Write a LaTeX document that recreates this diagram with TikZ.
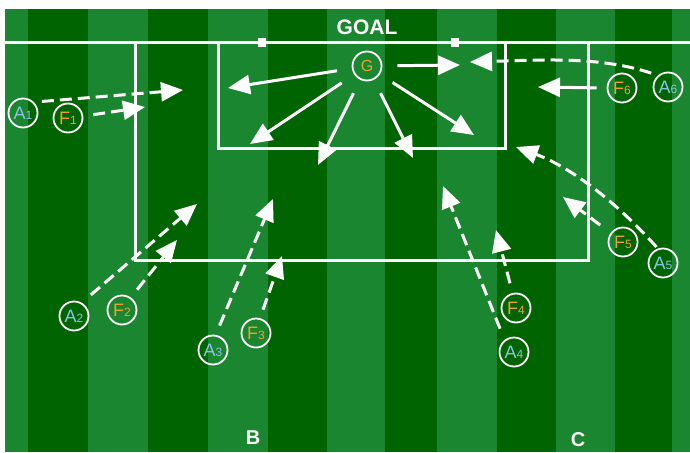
\documentclass[tikz,border=0pt]{standalone}
\usepackage{fontspec}
\setmainfont{Liberation Sans}
\usetikzlibrary{arrows.meta}
\definecolor{grassl}{HTML}{1A8630}
\definecolor{grassd}{HTML}{006400}
\definecolor{attc}{HTML}{8CC4E4}
\definecolor{fwdc}{HTML}{F0A030}
\newcommand{\pnum}[1]{{\fontsize{12}{12}\selectfont #1}}

\begin{document}
\begin{tikzpicture}[x=1pt,y=-1pt,>={Triangle[length=22pt,width=19pt]},pitch/.style={draw=white,line width=3pt},plr/.style={circle,draw=white,line width=1.8pt,minimum size=29pt,inner sep=0pt,font=\fontsize{18}{18}\selectfont},att/.style={plr,text=attc},fwd/.style={plr,text=fwdc},kick/.style={->,draw=white,line width=3pt},run/.style={kick,dash pattern=on 12pt off 6pt},fieldlab/.style={font=\fontsize{21}{21}\selectfont\bfseries,text=white}]
\useasboundingbox (0,0) rectangle (690,452);
\fill[grassl] (5,9) rectangle (690,452);
\foreach \a/\b in {28/88,148/208,268/327,385/437,497/556,615/672} \fill[grassd] (\a,9) rectangle (\b,452);
\draw[pitch] (5,43)--(690,43);
\draw[pitch] (135,43)--(135,260)--(588,260)--(588,43);
\draw[pitch] (218,43)--(218,148)--(505,148)--(505,43);
\foreach \x in {262,455} \fill[white] (\x-4,38) rectangle (\x+4,47);
\node[fieldlab] (goal) at (367,27) {GOAL};
\node[fieldlab,font=\fontsize{20}{20}\selectfont\bfseries] (B) at (253,438) {B};
\node[fieldlab,font=\fontsize{20}{20}\selectfont\bfseries] (C) at (578,440) {C};
\node[fwd,font=\fontsize{16}{16}\selectfont] (G) at (367,66) {G};
\node[att] (A1) at (23,113) {A\pnum{1}};
\node[fwd] (F1) at (68,118) {F\pnum{1}};
\node[att] (A2) at (74,316) {A\pnum{2}};
\node[fwd] (F2) at (122,310) {F\pnum{2}};
\node[att] (A3) at (213,350) {A\pnum{3}};
\node[fwd] (F3) at (256,333) {F\pnum{3}};
\node[att] (A4) at (514,352) {A\pnum{4}};
\node[fwd] (F4) at (516,308) {F\pnum{4}};
\node[att] (A5) at (663,263) {A\pnum{5}};
\node[fwd] (F5) at (623,242) {F\pnum{5}};
\node[att] (A6) at (668,87) {A\pnum{6}};
\node[fwd] (F6) at (622,88) {F\pnum{6}};
\coordinate (k1) at (228,88);\coordinate (k2) at (250,144);\coordinate (k3) at (318,165);
\coordinate (k4) at (413,158);\coordinate (k5) at (474,135);\coordinate (k6) at (460,65);
\coordinate (A1-t) at (183,90);\coordinate (F1-t) at (145,107);
\coordinate (A2-t) at (197,204);\coordinate (F2-t) at (177,240);
\coordinate (A3-t) at (273,199);\coordinate (F3-t) at (282,256);
\coordinate (A4-t) at (443,186);\coordinate (F4-t) at (496,230);
\coordinate (A5-t) at (516,147);\coordinate (F5-t) at (563,197);
\coordinate (A6-t) at (470,62);\coordinate (F6-t) at (538,87);
\foreach \t in {k1,k2,k3,k4,k5,k6} \draw[kick,shorten <=15pt] (G)--(\t);
\foreach \n/\a/\s in {A1/45/8,F1/7/10,A2/60/12,F2/55/10,A3/80/10,F3/75/9,A4/128/12,F4/103/10,F5/144/13} \draw[run,shorten <=\s pt] (\n.\a)--(\n-t);
\draw[run,shorten <=2pt] (A5.110) .. controls (610,195) and (565,165) .. (A5-t);
\draw[run,shorten <=7pt] (A6.131) .. controls (600,56) and (540,60) .. (A6-t);
\draw[kick,shorten <=10pt] (F6.west)--(F6-t);
\end{tikzpicture}
\end{document}
